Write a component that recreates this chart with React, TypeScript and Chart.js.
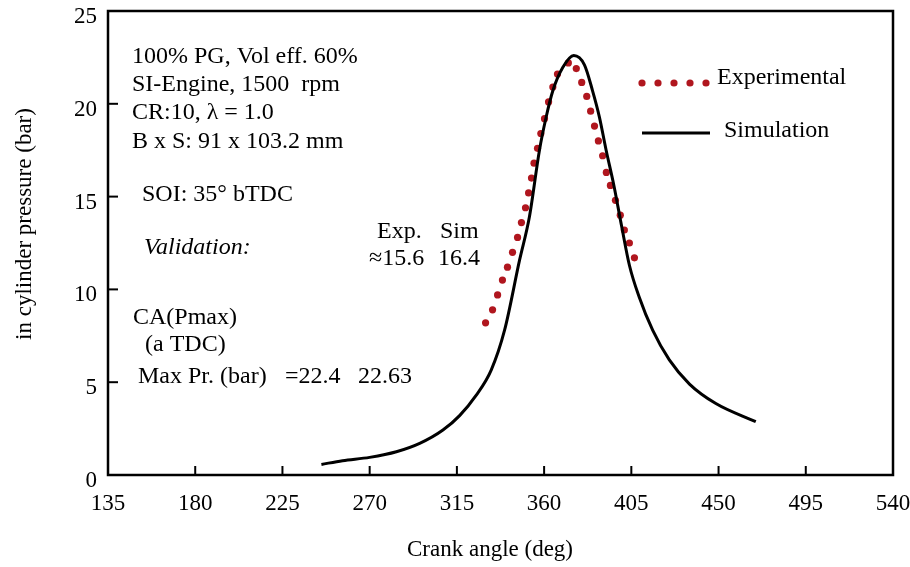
import React, { useEffect, useRef } from "react";
import { Chart, registerables } from "chart.js";

Chart.register(...registerables);

// ---- data ----
const simAngle = [245.1, 256, 270, 283.8, 295.8, 307.8, 316.4, 325, 332.7, 339.6, 347.3, 352.4, 357.6, 361, 364.5, 369.6, 375.3, 380.8, 385, 388.5, 392, 396, 400, 404, 409, 416, 424.6, 435, 448.6, 469.2];
const simPressure = [0.57, 0.77, 0.95, 1.25, 1.7, 2.42, 3.2, 4.3, 5.65, 7.8, 11.56, 13.9, 17.5, 19.26, 20.7, 21.95, 22.6, 22.1, 20.7, 19.3, 17.5, 15.6, 13.4, 11.3, 9.6, 7.8, 6.2, 4.9, 3.85, 2.87];

const expAngle = [329.8, 333.4, 336.0, 338.5, 341.1, 343.7, 346.3, 348.3, 350.4, 352.0, 353.5, 354.8, 356.6, 358.3, 360.2, 362.3, 364.5, 366.9, 372.5, 376.6, 379.4, 382.0, 384.0, 386.0, 388.0, 390.2, 392.1, 394.2, 396.8, 399.3, 401.4, 404.0, 406.6];
const expPressure = [8.2, 8.9, 9.7, 10.5, 11.2, 12.0, 12.8, 13.6, 14.4, 15.2, 16.0, 16.8, 17.6, 18.4, 19.2, 20.1, 20.9, 21.6, 22.2, 21.9, 21.15, 20.4, 19.6, 18.8, 18.0, 17.2, 16.3, 15.6, 14.8, 14.0, 13.2, 12.5, 11.7];

const xTickValues = [135, 180, 225, 270, 315, 360, 405, 450, 495, 540];
const yTickValues = [0, 5, 10, 15, 20, 25];

const seriesNames = ["Experimental", "Simulation"];
const xTitle = "Crank angle (deg)";
const yTitle = "in cylinder pressure (bar)";

// text annotations: [text, left x px, center y px, italic]
const notes: [string, number, number, boolean][] = [
  ["100% PG, Vol eff. 60%", 132, 57, false],
  ["SI-Engine, 1500  rpm", 132, 85, false],
  ["CR:10, \u03bb = 1.0", 132, 113, false],
  ["B x S: 91 x 103.2 mm", 132, 142, false],
  ["SOI: 35\u00b0 bTDC", 142, 195, false],
  ["Validation:", 144, 248, true],
  ["Exp.", 377, 232, false],
  ["Sim", 440, 232, false],
  ["\u224815.6", 369, 259, false],
  ["16.4", 438, 259, false],
  ["CA(Pmax)", 133, 318, false],
  ["(a TDC)", 145, 345, false],
  ["Max Pr. (bar)", 138, 377, false],
  ["=22.4", 285, 377, false],
  ["22.63", 358, 377, false],
];

const FONT = '"Liberation Serif", "Times New Roman", serif';
const FS = 23;
const NOTE_FS = 24;
const RED = "#b0161e";

export default function App() {
  const ref = useRef<HTMLCanvasElement | null>(null);

  useEffect(() => {
    document.body.style.margin = "0";
    const canvas = ref.current;
    if (!canvas) return;

    const decor = {
      id: "decor",
      afterDraw(chart: any) {
        const ctx = chart.ctx as CanvasRenderingContext2D;
        const a = chart.chartArea;
        const xs = chart.scales.x;
        const ys = chart.scales.y;
        ctx.save();
        // frame
        ctx.strokeStyle = "#000";
        ctx.lineWidth = 2.5;
        ctx.strokeRect(a.left, a.top, a.right - a.left, a.bottom - a.top);
        // inward ticks
        ctx.lineWidth = 2;
        xTickValues.slice(1, -1).forEach((v) => {
          const px = xs.getPixelForValue(v);
          ctx.beginPath();
          ctx.moveTo(px, a.bottom);
          ctx.lineTo(px, a.bottom - 9);
          ctx.stroke();
        });
        yTickValues.slice(1, -1).forEach((v) => {
          const py = ys.getPixelForValue(v);
          ctx.beginPath();
          ctx.moveTo(a.left, py);
          ctx.lineTo(a.left + 10, py);
          ctx.stroke();
        });
        // notes
        ctx.fillStyle = "#000";
        ctx.textBaseline = "middle";
        ctx.textAlign = "left";
        notes.forEach(([t, x, y, it]) => {
          ctx.font = (it ? "italic " : "") + NOTE_FS + "px " + FONT;
          ctx.fillText(t, x, y);
        });
        // legend
        ctx.font = NOTE_FS + "px " + FONT;
        ctx.fillStyle = RED;
        for (let i = 0; i < 5; i++) {
          ctx.beginPath();
          ctx.arc(642 + i * 16, 83, 3.6, 0, Math.PI * 2);
          ctx.fill();
        }
        ctx.fillStyle = "#000";
        ctx.fillText(seriesNames[0], 717, 78);
        ctx.lineWidth = 3;
        ctx.beginPath();
        ctx.moveTo(642, 133);
        ctx.lineTo(710, 133);
        ctx.stroke();
        ctx.fillText(seriesNames[1], 724, 131);
        // axis titles
        ctx.font = FS + "px " + FONT;
        ctx.textAlign = "center";
        ctx.fillText(xTitle, 490, 550);
        ctx.translate(25, 224);
        ctx.rotate(-Math.PI / 2);
        ctx.fillText(yTitle, 0, 0);
        ctx.restore();
      },
    };

    const chart = new Chart(canvas, {
      type: "scatter",
      data: {
        datasets: [
          {
            label: seriesNames[0],
            data: expAngle.map((x, i) => ({ x, y: expPressure[i] })),
            showLine: false,
            pointRadius: 3.6,
            pointBackgroundColor: RED,
            pointBorderWidth: 0,
            order: 2,
          },
          {
            label: seriesNames[1],
            data: simAngle.map((x, i) => ({ x, y: simPressure[i] })),
            showLine: true,
            pointRadius: 0,
            borderColor: "#000",
            borderWidth: 3,
            cubicInterpolationMode: "monotone",
            order: 1,
          },
        ],
      },
      options: {
        responsive: false,
        animation: false,
        layout: { padding: 0 },
        plugins: { legend: { display: false }, tooltip: { enabled: false } },
        scales: {
          x: {
            type: "linear",
            min: 135,
            max: 540,
            afterBuildTicks: (s: any) => {
              s.ticks = xTickValues.map((v) => ({ value: v }));
            },
            afterFit: (s: any) => {
              s.height = 92;
              s.paddingLeft = 0;
              s.paddingRight = 17;
            },
            ticks: {
              font: { family: FONT, size: FS },
              color: "#000",
              padding: 15,
              maxRotation: 0,
              autoSkip: false,
            },
            grid: { display: false, drawTicks: false },
            border: { display: false },
          },
          y: {
            type: "linear",
            min: 0,
            max: 25,
            afterBuildTicks: (s: any) => {
              s.ticks = yTickValues.map((v) => ({ value: v }));
            },
            afterFit: (s: any) => {
              s.width = 108;
              s.paddingTop = 11;
              s.paddingBottom = 0;
            },
            ticks: {
              font: { family: FONT, size: FS },
              color: "#000",
              padding: 11,
              labelOffset: 6,
              autoSkip: false,
            },
            grid: { display: false, drawTicks: false },
            border: { display: false },
          },
        },
      },
      plugins: [decor],
    });

    return () => chart.destroy();
  }, []);

  return (
    <div style={{ width: 910, height: 567, background: "#fff" }}>
      <canvas ref={ref} width={910} height={567} style={{ display: "block" }} />
    </div>
  );
}
